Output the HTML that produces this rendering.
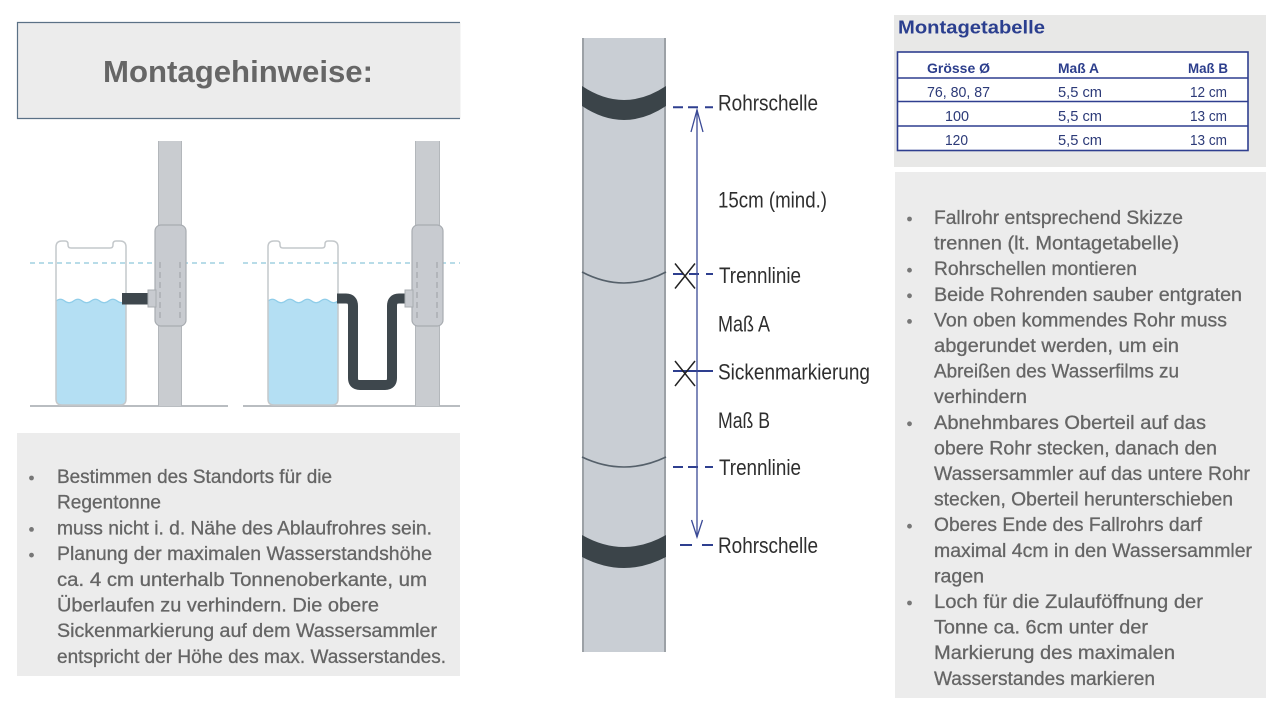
<!DOCTYPE html>
<html><head><meta charset="utf-8"><style>
html,body{margin:0;padding:0;background:#fff;}
svg{display:block;}
text{font-family:"Liberation Sans",sans-serif;}
.bt{font-size:19.5px;fill:#656565;stroke:#656565;stroke-width:0.3px;}
.ml{font-size:22px;fill:#2e2e2e;}
</style></head><body>
<svg width="1280" height="720" viewBox="0 0 1280 720" xmlns="http://www.w3.org/2000/svg">
<rect width="1280" height="720" fill="#fff"/>

<!-- Title box -->
<rect x="17.5" y="22.5" width="443" height="96" fill="#ececec"/>
<path d="M460,22.5 H17.5 V118.5 H460" fill="none" stroke="#5b7186" stroke-width="1.2"/>
<text x="103" y="82" font-size="31" font-weight="bold" fill="#666" textLength="270" lengthAdjust="spacingAndGlyphs">Montagehinweise:</text>

<!-- Left illustration -->
<g>
  <line x1="30" y1="263" x2="228" y2="263" stroke="#8ec6db" stroke-width="1.3" stroke-dasharray="5 4"/>
  <line x1="243" y1="263" x2="460" y2="263" stroke="#8ec6db" stroke-width="1.3" stroke-dasharray="5 4"/>
  <line x1="30" y1="406" x2="228" y2="406" stroke="#b9bdc1" stroke-width="2"/>
  <line x1="243" y1="406" x2="460" y2="406" stroke="#b9bdc1" stroke-width="2"/>

  <!-- tank 1 -->
  <path d="M56,301 q4.4,-3.5 8.75,0 t8.75,0 t8.75,0 t8.75,0 t8.75,0 t8.75,0 t8.75,0 t8.75,0 L126,399 Q126,405 120,405 L62,405 Q56,405 56,399 Z" fill="#b4dff3"/>
  <path d="M56,301 q4.4,-3.5 8.75,0 t8.75,0 t8.75,0 t8.75,0 t8.75,0 t8.75,0 t8.75,0 t8.75,0" fill="none" stroke="#8fcde9" stroke-width="1.2"/>
  <path d="M56,247 Q56,241 62,241 L65,241 Q68,241 68,244 L68,245 Q68,248 71,248 L110,248 Q113,248 113,245 L113,244 Q113,241 116,241 L120,241 Q126,241 126,247 L126,399 Q126,405 120,405 L62,405 Q56,405 56,399 Z" fill="none" stroke="#c4c8cb" stroke-width="1.5"/>
  <!-- pipe 1 -->
  <rect x="158" y="141" width="24" height="265" fill="#c9ccd0"/>
  <line x1="158.5" y1="141" x2="158.5" y2="406" stroke="#b3b7bb" stroke-width="1"/>
  <line x1="181.5" y1="141" x2="181.5" y2="406" stroke="#b3b7bb" stroke-width="1"/>
  <rect x="155" y="225" width="31" height="101" rx="6" fill="#c8cbd0" stroke="#a8acb1" stroke-width="1.2"/>
  <line x1="160" y1="262" x2="160" y2="318" stroke="#a3a7ab" stroke-width="1.2" stroke-dasharray="6 4"/>
  <line x1="180" y1="262" x2="180" y2="318" stroke="#a3a7ab" stroke-width="1.2" stroke-dasharray="6 4"/>
  <rect x="122" y="293" width="26" height="11.5" fill="#3e474d"/>
  <rect x="148" y="290" width="8" height="17" fill="#c8cbd0" stroke="#a8acb1" stroke-width="1"/>

  <!-- tank 2 -->
  <g transform="translate(212,0)">
  <path d="M56,301 q4.4,-3.5 8.75,0 t8.75,0 t8.75,0 t8.75,0 t8.75,0 t8.75,0 t8.75,0 t8.75,0 L126,399 Q126,405 120,405 L62,405 Q56,405 56,399 Z" fill="#b4dff3"/>
  <path d="M56,301 q4.4,-3.5 8.75,0 t8.75,0 t8.75,0 t8.75,0 t8.75,0 t8.75,0 t8.75,0 t8.75,0" fill="none" stroke="#8fcde9" stroke-width="1.2"/>
  <path d="M56,247 Q56,241 62,241 L65,241 Q68,241 68,244 L68,245 Q68,248 71,248 L110,248 Q113,248 113,245 L113,244 Q113,241 116,241 L120,241 Q126,241 126,247 L126,399 Q126,405 120,405 L62,405 Q56,405 56,399 Z" fill="none" stroke="#c4c8cb" stroke-width="1.5"/>
  </g>
  <!-- pipe 2 -->
  <rect x="415" y="141" width="25" height="265" fill="#c9ccd0"/>
  <line x1="415.5" y1="141" x2="415.5" y2="406" stroke="#b3b7bb" stroke-width="1"/>
  <line x1="439.5" y1="141" x2="439.5" y2="406" stroke="#b3b7bb" stroke-width="1"/>
  <rect x="412" y="225" width="31" height="101" rx="6" fill="#c8cbd0" stroke="#a8acb1" stroke-width="1.2"/>
  <line x1="417" y1="262" x2="417" y2="318" stroke="#a3a7ab" stroke-width="1.2" stroke-dasharray="6 4"/>
  <line x1="437" y1="262" x2="437" y2="318" stroke="#a3a7ab" stroke-width="1.2" stroke-dasharray="6 4"/>
  <path d="M337,298.5 H346 Q353,298.5 353,306 V378 Q353,385 360,385 H385 Q392,385 392,378 V306 Q392,298.5 399,298.5 H406" fill="none" stroke="#3e474d" stroke-width="10"/>
  <rect x="405" y="290" width="8" height="17" fill="#c8cbd0" stroke="#a8acb1" stroke-width="1"/>
</g>

<!-- Left text box -->
<rect x="17" y="433" width="443" height="243" fill="#ececec"/>
<circle cx="31.5" cy="478" r="2.4" fill="#777"/>
<circle cx="31.5" cy="529.4" r="2.4" fill="#777"/>
<circle cx="31.5" cy="555.1" r="2.4" fill="#777"/>
<text class="bt" x="57" y="483" textLength="275" lengthAdjust="spacingAndGlyphs">Bestimmen des Standorts für die</text>
<text class="bt" x="57" y="508.7" textLength="104" lengthAdjust="spacingAndGlyphs">Regentonne</text>
<text class="bt" x="57" y="534.4" textLength="375" lengthAdjust="spacingAndGlyphs">muss nicht i. d. Nähe des Ablaufrohres sein.</text>
<text class="bt" x="57" y="560.1" textLength="375" lengthAdjust="spacingAndGlyphs">Planung der maximalen Wasserstandshöhe</text>
<text class="bt" x="57" y="585.8" textLength="370" lengthAdjust="spacingAndGlyphs">ca. 4 cm unterhalb Tonnenoberkante, um</text>
<text class="bt" x="57" y="611.5" textLength="322" lengthAdjust="spacingAndGlyphs">Überlaufen zu verhindern. Die obere</text>
<text class="bt" x="57" y="637.2" textLength="380" lengthAdjust="spacingAndGlyphs">Sickenmarkierung auf dem Wassersammler</text>
<text class="bt" x="57" y="662.9" textLength="389" lengthAdjust="spacingAndGlyphs">entspricht der Höhe des max. Wasserstandes.</text>

<!-- Middle pipe diagram -->
<rect x="582" y="38" width="84" height="614" fill="#c9ced4"/>
<line x1="583" y1="38" x2="583" y2="652" stroke="#9ca1a6" stroke-width="2"/>
<line x1="665" y1="38" x2="665" y2="652" stroke="#9ca1a6" stroke-width="2"/>
<path d="M582,86 Q624,114 666,86 L666,106 Q624,134 582,106 Z" fill="#3b4449"/>
<path d="M582,272 Q624,294 666,272" fill="none" stroke="#55606a" stroke-width="1.6"/>
<path d="M582,457 Q624,477 666,457" fill="none" stroke="#55606a" stroke-width="1.6"/>
<path d="M582,535 Q624,559 666,535 L666,557 Q624,579 582,557 Z" fill="#3b4449"/>

<g stroke="#2e3f8f" stroke-width="2" fill="none">
  <path d="M673,107.3 H683 M688,107.3 H698 M705,107.3 H713"/>
  <path d="M673,274 H683 M689,274 H699 M706,274 H713"/>
  <path d="M673,371 H713"/>
  <path d="M673,467 H683 M688,467 H698 M705,467 H713"/>
  <path d="M680,545 H692 M702,545 H713"/>
</g>
<g stroke="#3b4a96" stroke-width="1.3" fill="none">
  <line x1="697" y1="110" x2="697" y2="537"/>
  <path d="M691,132 L697,110 L703,132"/>
  <path d="M691.5,520 L697,537 L702.5,520"/>
</g>
<g stroke="#222" stroke-width="1.5">
  <path d="M675,263.5 L695,288.5 M695,263.5 L675,288.5"/>
  <path d="M675,361 L695,386 M695,361 L675,386"/>
</g>
<text class="ml" x="718" y="110.5" textLength="100" lengthAdjust="spacingAndGlyphs">Rohrschelle</text>
<text class="ml" x="718" y="207.5" textLength="109" lengthAdjust="spacingAndGlyphs">15cm (mind.)</text>
<text class="ml" x="719" y="283" textLength="82" lengthAdjust="spacingAndGlyphs">Trennlinie</text>
<text class="ml" x="718" y="331.5" textLength="52" lengthAdjust="spacingAndGlyphs">Maß A</text>
<text class="ml" x="718" y="379.5" textLength="152" lengthAdjust="spacingAndGlyphs">Sickenmarkierung</text>
<text class="ml" x="718" y="428" textLength="52" lengthAdjust="spacingAndGlyphs">Maß B</text>
<text class="ml" x="719" y="475" textLength="82" lengthAdjust="spacingAndGlyphs">Trennlinie</text>
<text class="ml" x="718" y="553" textLength="100" lengthAdjust="spacingAndGlyphs">Rohrschelle</text>

<!-- Montagetabelle -->
<rect x="894" y="15" width="372" height="152" fill="#e8e8e7"/>
<text x="898" y="33.5" font-size="18" font-weight="bold" fill="#2b3f8f" textLength="147" lengthAdjust="spacingAndGlyphs">Montagetabelle</text>
<rect x="897.5" y="52" width="350.5" height="98.5" fill="#fff" stroke="#2f3f8f" stroke-width="1.6"/>
<line x1="897.5" y1="78" x2="1248" y2="78" stroke="#2f3f8f" stroke-width="1.6"/>
<line x1="897.5" y1="101.5" x2="1248" y2="101.5" stroke="#2f3f8f" stroke-width="1.6"/>
<line x1="897.5" y1="126" x2="1248" y2="126" stroke="#2f3f8f" stroke-width="1.6"/>
<g font-weight="bold" font-size="14" fill="#2c3e8c">
  <text x="927" y="73" textLength="63" lengthAdjust="spacingAndGlyphs">Grösse Ø</text>
  <text x="1058" y="73" textLength="41" lengthAdjust="spacingAndGlyphs">Maß A</text>
  <text x="1188" y="73" textLength="40" lengthAdjust="spacingAndGlyphs">Maß B</text>
</g>
<g font-size="15" fill="#2c3a78">
  <text x="927" y="97" textLength="63" lengthAdjust="spacingAndGlyphs">76, 80, 87</text>
  <text x="1058" y="97" textLength="44" lengthAdjust="spacingAndGlyphs">5,5 cm</text>
  <text x="1190" y="97" textLength="37" lengthAdjust="spacingAndGlyphs">12 cm</text>
  <text x="945" y="121" textLength="24" lengthAdjust="spacingAndGlyphs">100</text>
  <text x="1058" y="121" textLength="44" lengthAdjust="spacingAndGlyphs">5,5 cm</text>
  <text x="1190" y="121" textLength="37" lengthAdjust="spacingAndGlyphs">13 cm</text>
  <text x="945" y="145" textLength="23" lengthAdjust="spacingAndGlyphs">120</text>
  <text x="1058" y="145" textLength="44" lengthAdjust="spacingAndGlyphs">5,5 cm</text>
  <text x="1190" y="145" textLength="37" lengthAdjust="spacingAndGlyphs">13 cm</text>
</g>

<!-- Right text box -->
<rect x="895" y="172" width="371" height="526" fill="#ececec"/>
<g fill="#777">
  <circle cx="909.5" cy="219" r="2.4"/>
  <circle cx="909.5" cy="270.2" r="2.4"/>
  <circle cx="909.5" cy="295.8" r="2.4"/>
  <circle cx="909.5" cy="321.4" r="2.4"/>
  <circle cx="909.5" cy="423.8" r="2.4"/>
  <circle cx="909.5" cy="526.2" r="2.4"/>
  <circle cx="909.5" cy="603" r="2.4"/>
</g>
<text class="bt" x="934" y="224" textLength="249" lengthAdjust="spacingAndGlyphs">Fallrohr entsprechend Skizze</text>
<text class="bt" x="934" y="249.6" textLength="245" lengthAdjust="spacingAndGlyphs">trennen (lt. Montagetabelle)</text>
<text class="bt" x="934" y="275.2" textLength="203" lengthAdjust="spacingAndGlyphs">Rohrschellen montieren</text>
<text class="bt" x="934" y="300.8" textLength="308" lengthAdjust="spacingAndGlyphs">Beide Rohrenden sauber entgraten</text>
<text class="bt" x="934" y="326.4" textLength="293" lengthAdjust="spacingAndGlyphs">Von oben kommendes Rohr muss</text>
<text class="bt" x="934" y="352" textLength="245" lengthAdjust="spacingAndGlyphs">abgerundet werden, um ein</text>
<text class="bt" x="934" y="377.6" textLength="245" lengthAdjust="spacingAndGlyphs">Abreißen des Wasserfilms zu</text>
<text class="bt" x="934" y="403.2" textLength="93" lengthAdjust="spacingAndGlyphs">verhindern</text>
<text class="bt" x="934" y="428.8" textLength="272" lengthAdjust="spacingAndGlyphs">Abnehmbares Oberteil auf das</text>
<text class="bt" x="934" y="454.4" textLength="283" lengthAdjust="spacingAndGlyphs">obere Rohr stecken, danach den</text>
<text class="bt" x="934" y="480" textLength="316" lengthAdjust="spacingAndGlyphs">Wassersammler auf das untere Rohr</text>
<text class="bt" x="934" y="505.6" textLength="299" lengthAdjust="spacingAndGlyphs">stecken, Oberteil herunterschieben</text>
<text class="bt" x="934" y="531.2" textLength="268" lengthAdjust="spacingAndGlyphs">Oberes Ende des Fallrohrs darf</text>
<text class="bt" x="934" y="556.8" textLength="318" lengthAdjust="spacingAndGlyphs">maximal 4cm in den Wassersammler</text>
<text class="bt" x="934" y="582.4" textLength="50" lengthAdjust="spacingAndGlyphs">ragen</text>
<text class="bt" x="934" y="608" textLength="269" lengthAdjust="spacingAndGlyphs">Loch für die Zulauföffnung der</text>
<text class="bt" x="934" y="633.6" textLength="214" lengthAdjust="spacingAndGlyphs">Tonne ca. 6cm unter der</text>
<text class="bt" x="934" y="659.2" textLength="241" lengthAdjust="spacingAndGlyphs">Markierung des maximalen</text>
<text class="bt" x="934" y="684.8" textLength="221" lengthAdjust="spacingAndGlyphs">Wasserstandes markieren</text>
</svg>
</body></html>
